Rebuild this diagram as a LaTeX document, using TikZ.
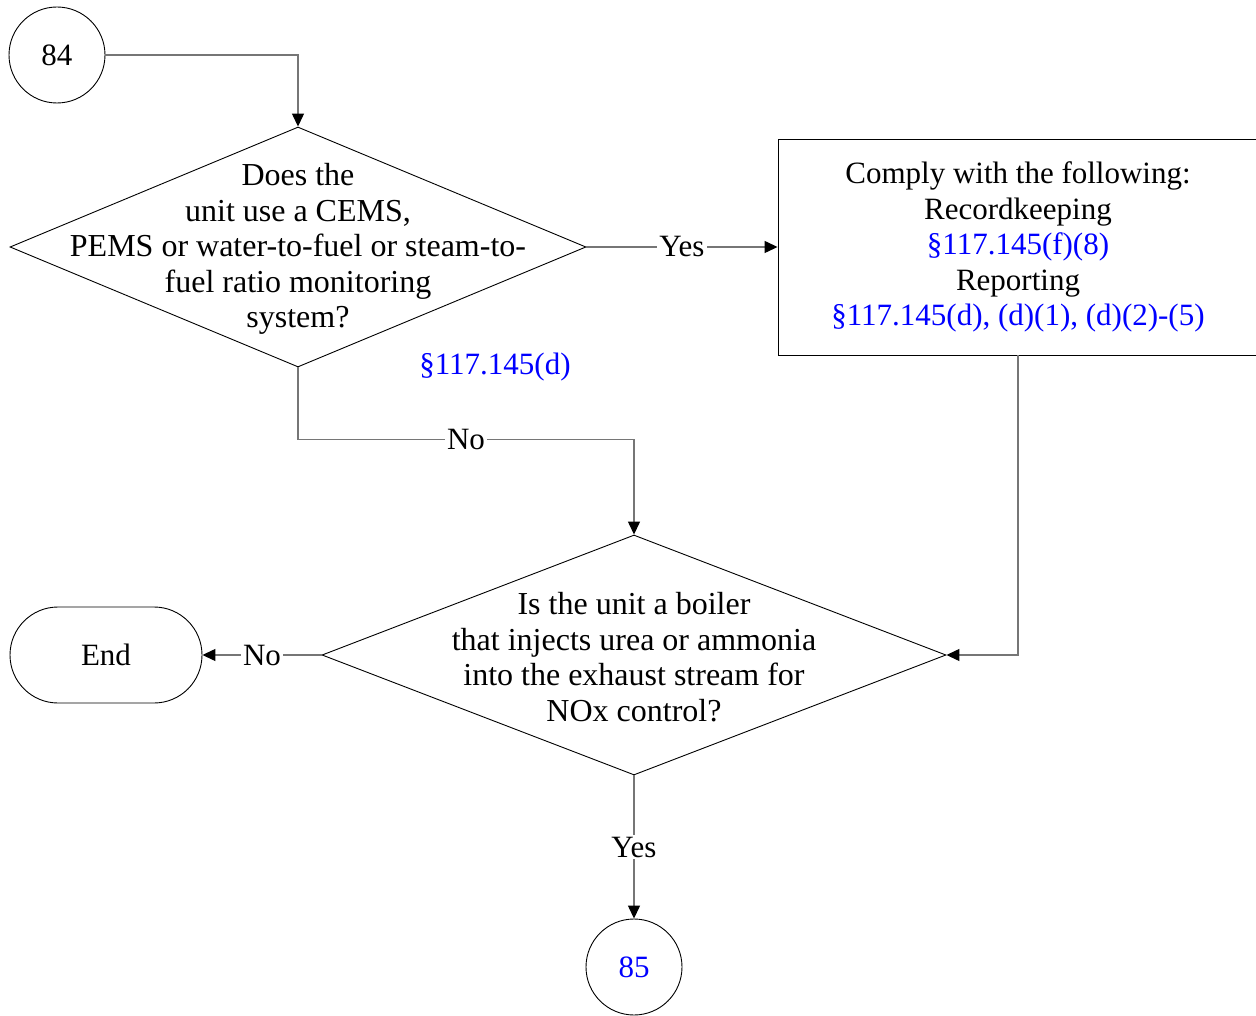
\documentclass[tikz,border=0pt]{standalone}
\usepackage{fontspec}
\setmainfont{Liberation Serif}
\usetikzlibrary{arrows.meta,positioning,shapes.geometric,shapes.misc}
\definecolor{refblue}{RGB}{0,0,255}
\definecolor{linegray}{RGB}{118,118,118}
\tikzset{
  decision/.style={diamond, draw, line width=0.9pt, minimum width=576pt,
                   minimum height=240pt, inner sep=0pt},
  qtext/.style={align=center, inner sep=0pt, yshift=-2pt,
                font=\fontsize{32}{35.5}\selectfont},
  box/.style={draw, line width=0.9pt, align=center, minimum width=480pt,
              minimum height=216pt, inner sep=0pt},
  term/.style={rounded rectangle, draw, line width=0.9pt, minimum width=192pt,
               minimum height=96pt, inner sep=0pt},
  conncirc/.style={circle, draw, line width=0.9pt, minimum size=96pt, inner sep=0pt},
  ref/.style={text=refblue, inner sep=0pt},
  conn/.style={draw=linegray, line width=1.3pt,
               -{Triangle[length=13pt, width=12pt, color=black]}},
  lbl/.style={fill=white, inner sep=2pt}
}
\begin{document}
\begin{tikzpicture}[x=1pt, y=-1pt, font=\fontsize{31}{35.5}\selectfont]
  \useasboundingbox (0,0) rectangle (1256,1016);
  \node[conncirc] (c84) at (57,55) {84};
  \node[decision] (q1) at (298,247) {};
  \node[qtext] (q1txt) at (q1.center) {Does the\\unit use a CEMS,\\PEMS or water-to-fuel or steam-to-\\fuel ratio monitoring\\system?};
  \node[box] (rk) at (1018,247) {Comply with the following:\\Recordkeeping\\\textcolor{refblue}{§117.145(f)(8)}\\Reporting\\\textcolor{refblue}{§117.145(d), (d)(1), (d)(2)-(5)}};
  \node[ref] (q1ref) at (495,367) {§117.145(d)};
  \node[decision, minimum width=624pt] (q2) at (634,655) {};
  \node[qtext] (q2txt) at (q2.center) {Is the unit a boiler\\that injects urea or ammonia\\into the exhaust stream for\\NOx control?};
  \node[term] (end) at (106,655) {End};
  \node[conncirc, text=refblue] (c85) at (634,967) {85};

  \draw[conn] (c84) -| (q1.north);
  \draw[conn] (q1.east) -- node[lbl] {Yes} (rk.west);
  \draw[conn] (q1.south) -- ++(0,72) -| node[lbl, pos=0.25] {No} (q2.north);
  \draw[conn] (rk.south) |- (q2.east);
  \draw[conn] (q2.west) -- node[lbl] {No} (end.east);
  \draw[conn] (q2.south) -- node[lbl] {Yes} (c85.north);
\end{tikzpicture}
\end{document}
